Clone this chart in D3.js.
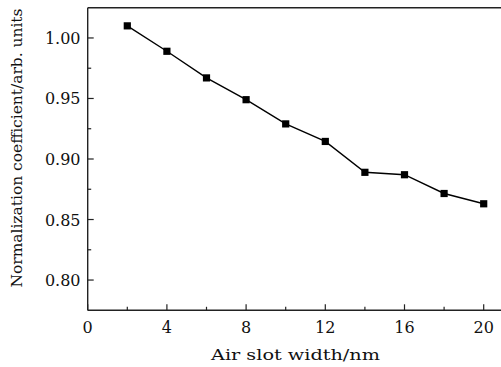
<!DOCTYPE html>
<html><head><meta charset="utf-8">
<script src="https://cdn.jsdelivr.net/npm/d3@7"></script>
<style>body{margin:0;background:#fff;} svg{display:block;}</style>
</head><body>
<svg id="c" width="501" height="367"></svg>
<script>
const xValues = [2, 4, 6, 8, 10, 12, 14, 16, 18, 20];
const yValues = [1.010, 0.989, 0.967, 0.949, 0.929, 0.9145, 0.889, 0.887, 0.8715, 0.863];
const xTicks = [0, 4, 8, 12, 16, 20];
const xMinorTicks = [2, 6, 10, 14, 18];
const yTicks = [0.80, 0.85, 0.90, 0.95, 1.00];
const yMinorTicks = [0.775, 0.825, 0.875, 0.925, 0.975, 1.025];
const xTitle = "Air slot width/nm";
const yTitle = "Normalization coefficient/arb. units";

const svg = d3.select("#c");
const L = 87.7, T = 7.7, B = 310.3;
const x = d3.scaleLinear().domain([0, 21]).range([L, L + 21 * 19.8]);
const y = d3.scaleLinear().domain([0.775, 1.025]).range([B, T]);
const font = "'DejaVu Serif', serif";
const axisColor = "#222";

const g = svg.append("g");
g.append("line").attr("x1", L).attr("x2", 501).attr("y1", B).attr("y2", B).attr("stroke", axisColor).attr("stroke-width", 1.4);
g.append("line").attr("x1", L).attr("x2", 501).attr("y1", T).attr("y2", T).attr("stroke", axisColor).attr("stroke-width", 1.4);
g.append("line").attr("x1", L).attr("x2", L).attr("y1", T).attr("y2", B).attr("stroke", axisColor).attr("stroke-width", 1.4);

g.selectAll(".xt").data(xTicks).join("line")
  .attr("x1", d => x(d)).attr("x2", d => x(d)).attr("y1", B).attr("y2", B - 6)
  .attr("stroke", axisColor).attr("stroke-width", 1.2);
g.selectAll(".xm").data(xMinorTicks).join("line")
  .attr("x1", d => x(d)).attr("x2", d => x(d)).attr("y1", B).attr("y2", B - 3.5)
  .attr("stroke", axisColor).attr("stroke-width", 1.2);
g.selectAll(".xl").data(xTicks).join("text")
  .attr("x", d => x(d)).attr("y", 332.5).attr("text-anchor", "middle")
  .attr("font-family", font).attr("font-size", 16)
  .attr("fill", "#111").text(d => d);

g.selectAll(".yt").data(yTicks).join("line")
  .attr("x1", L).attr("x2", L + 6).attr("y1", d => y(d)).attr("y2", d => y(d))
  .attr("stroke", axisColor).attr("stroke-width", 1.2);
g.selectAll(".ym").data(yMinorTicks.filter(d => d > 0.776 && d < 1.024)).join("line")
  .attr("x1", L).attr("x2", L + 3.5).attr("y1", d => y(d)).attr("y2", d => y(d))
  .attr("stroke", axisColor).attr("stroke-width", 1.2);
g.selectAll(".yl").data(yTicks).join("text")
  .attr("x", 80.5).attr("y", d => y(d) + 6).attr("text-anchor", "end")
  .attr("font-family", font).attr("font-size", 16)
  .attr("fill", "#111").text(d => d.toFixed(2));

g.append("text").attr("x", 295.5).attr("y", 360).attr("text-anchor", "middle")
  .attr("font-family", font).attr("font-size", 15.5).attr("fill", "#111")
  .attr("textLength", 169).attr("lengthAdjust", "spacingAndGlyphs").text(xTitle);
g.append("text").attr("transform", "translate(22,148) rotate(-90)").attr("text-anchor", "middle")
  .attr("font-family", font).attr("font-size", 15.5).attr("fill", "#111")
  .attr("textLength", 279).attr("lengthAdjust", "spacingAndGlyphs").text(yTitle);

const data = xValues.map((v, i) => ({ x: v, y: yValues[i] }));
g.append("path").datum(data)
  .attr("d", d3.line().x(d => x(d.x)).y(d => y(d.y)))
  .attr("fill", "none").attr("stroke", "#000").attr("stroke-width", 1.4);
g.selectAll(".pt").data(data).join("rect")
  .attr("x", d => x(d.x) - 3.6).attr("y", d => y(d.y) - 3.6)
  .attr("width", 7.2).attr("height", 7.2).attr("fill", "#000");
</script>
</body></html>
